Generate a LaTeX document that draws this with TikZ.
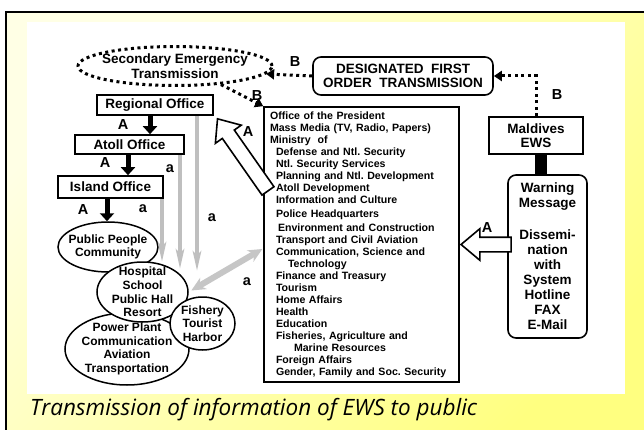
\documentclass[tikz,border=0pt]{standalone}
\usepackage{fontspec}
\setmainfont{Liberation Sans}
\newfontfamily\capfont{Open Sans}
\usetikzlibrary{shapes.geometric,shapes.arrows,arrows.meta}
\frenchspacing
\tikzset{%
	box/.style      = {draw, line width=1.6pt, rectangle, fill=white, inner sep=0pt, align=center,
		font=\bfseries\fontsize{13.5}{14.5}\selectfont},
	rbox/.style     = {box, rounded corners=8pt}, % rounded box
	cloud/.style    = {draw, ellipse, line width=1.5pt, fill=white, inner sep=0pt},
	cloudtxt/.style = {align=center, inner sep=0pt, font=\bfseries\fontsize{12}{13.7}\selectfont},
	dotline/.style  = {line width=3pt, dash pattern=on 3pt off 3.5pt}, % B links
	dottip/.style   = {-{Triangle[length=8pt,width=10pt]}},
	blackdown/.style= {line width=5pt, -{Triangle[length=8pt,width=14pt]}}, % A links
	grayline/.style = {draw=gray!50, line width=4.5pt, -{Stealth[length=20pt,width=7pt,inset=3pt]}}, % a links
	hollow/.style   = {draw, single arrow, fill=white, line width=1.6pt, inner xsep=0pt,
		inner ysep=6.5pt, single arrow head extend=8.5pt, single arrow tip angle=80},
	lbl/.style      = {font=\bfseries\fontsize{14.5}{14.5}\selectfont, inner sep=0pt}
}

\begin{document}
\begin{tikzpicture}[x=1pt,y=-1pt]
	\useasboundingbox (0,0) rectangle (644,430);
	\clip (0,0) rectangle (644,430);
	% slide frame
	\shade[top color=yellow!10, bottom color=yellow!50, shading angle=45, draw=black, line width=1.5pt]
		(6,12) rectangle (660,445);
	\fill[white] (27,22) rectangle (625,394);

	\node[cloud, dotline, minimum width=194pt, minimum height=39pt,
		label={[cloudtxt, font=\bfseries\fontsize{13.5}{15}\selectfont]center:{Secondary Emergency\\Transmission}}]
		(secondary) at (175,66) {};
	\node[rbox, minimum width=180pt, minimum height=38pt] (desig) at (403,76) {DESIGNATED\ \ FIRST\\ORDER\ \ TRANSMISSION};
	\node[box, minimum width=94pt, minimum height=37pt] (ews) at (536,135.5) {Maldives\\EWS};
	\node[rbox, minimum width=79pt, minimum height=163pt, font=\bfseries\fontsize{13.5}{15}\selectfont]
		(warn) at (547.5,256.5) {Warning\\Message\\[17pt]Dissemi-\\nation\\with\\System\\Hotline\\FAX\\E-Mail};

	\node[box, minimum height=275pt, text width=183pt, inner xsep=6pt, align=left,
		font=\bfseries\fontsize{10.6}{12}\selectfont] (office) at (361.5,244.5) {%
		Office of the President\\
		Mass Media (TV, Radio, Papers)\\
		Ministry\ \ of\\
		\hspace*{6pt}Defense and Ntl. Security\\
		\hspace*{6pt}Ntl. Security Services\\
		\hspace*{6pt}Planning and Ntl. Development\\
		\hspace*{6pt}Atoll Development\\
		\hspace*{6pt}Information and Culture\\[2pt]
		\hspace*{6pt}Police Headquarters\\[2pt]
		\hspace*{8pt}Environment and Construction\\
		\hspace*{6pt}Transport and Civil Aviation\\
		\hspace*{6pt}Communication, Science and\\
		\hspace*{18pt}Technology\\
		\hspace*{6pt}Finance and Treasury\\
		\hspace*{6pt}Tourism\\
		\hspace*{6pt}Home Affairs\\
		\hspace*{6pt}Health\\
		\hspace*{6pt}Education\\
		\hspace*{6pt}Fisheries, Agriculture and\\
		\hspace*{24pt}Marine Resources\\
		\hspace*{6pt}Foreign Affairs\\
		\hspace*{6pt}Gender, Family and Soc. Security};

	\node[box, minimum width=116pt, minimum height=20pt] (regional) at (155,105) {Regional Office};
	\node[box, minimum width=109pt, minimum height=19pt] (atoll) at (129.5,144.5) {Atoll Office};
	\node[box, minimum width=105pt, minimum height=22pt] (island) at (110.5,187) {Island Office};

	\node[cloud, minimum width=100pt, minimum height=50pt,
		label={[cloudtxt]center:{Public People\\Community}}] (public) at (108,247) {};
	\node[cloud, minimum width=124pt, minimum height=72pt,
		label={[cloudtxt]center:{Power Plant\\Communication\\Aviation\\Transportation}}] (power) at (127,349) {};
	\node[cloud, minimum width=91pt, minimum height=60pt,
		label={[cloudtxt]center:{Hospital\\School\\Public Hall\\Resort}}] (hospital) at (142.5,292) {};
	\node[cloud, minimum width=65pt, minimum height=53pt,
		label={[cloudtxt]center:{Fishery\\Tourist\\Harbor}}] (fishery) at (202.5,323.5) {};

	% B links
	\draw[dotline, dottip] (desig.west) -- (secondary.-5);
	\draw[dotline, dottip] (ews.north) |- (desig.east);
	\draw[dotline, dottip] (secondary.-22) -- (office.north west);
	\node[lbl] (lblB1) at (295,62) {B};
	\node[lbl] (lblB2) at (557,95) {B};
	\node[lbl] (lblB3) at (257,96) {B};

	% A links
	\draw[line width=12pt] ([xshift=4.5pt]ews.south) -- ([xshift=4.5pt]ews.south |- warn.north);
	\node[hollow, minimum height=50pt, rotate=180, anchor=tip] (arrWarn) at (office.east) {};
	\node[hollow, minimum height=88pt, rotate=125, anchor=tip] (arrOffice) at ([shift={(3pt,-2pt)}]regional.south east) {};
	\draw[blackdown] ([xshift=-5pt]regional.south) -- ([xshift=-5pt]regional.south |- atoll.north);
	\draw[blackdown] ([xshift=-1.5pt]atoll.south) -- ([xshift=-1.5pt]atoll.south |- island.north);
	\draw[blackdown] ([xshift=-3.5pt]island.south) -- ([xshift=-3.5pt]island.south |- public.north);
	\node[lbl] (lblA1) at (487,228) {A};
	\node[lbl] (lblA2) at (248,132) {A};
	\node[lbl] (lblA3) at (123,125) {A};
	\node[lbl] (lblA4) at (105,163) {A};
	\node[lbl] (lblA5) at (83,210) {A};

	% a links
	\coordinate (endIsland) at (162,264);
	\coordinate (endAtoll) at (180,271);
	\coordinate (endRegional) at (197,273);
	\draw[grayline] (island.south -| endIsland) -- (endIsland);
	\draw[grayline] (atoll.south -| endAtoll) -- (endAtoll);
	\draw[grayline] (regional.south -| endRegional) -- (endRegional);
	\draw[draw=gray!45, line width=6pt, {Stealth[length=14pt,width=13pt]}-{Stealth[length=14pt,width=13pt]},
		shorten <=3pt, shorten >=1pt] (hospital.east) -- ([yshift=-4pt]office.west);
	\node[lbl] (lbla1) at (170,169) {a};
	\node[lbl] (lbla2) at (143,209) {a};
	\node[lbl] (lbla3) at (212,218) {a};
	\node[lbl] (lbla4) at (247,282) {a};

	\node[anchor=base west, inner sep=0pt, font=\capfont\itshape\fontsize{22.5}{22.5}\selectfont] (caption) at (30,415)
		{Transmission of information of EWS to public};
\end{tikzpicture}
\end{document}
